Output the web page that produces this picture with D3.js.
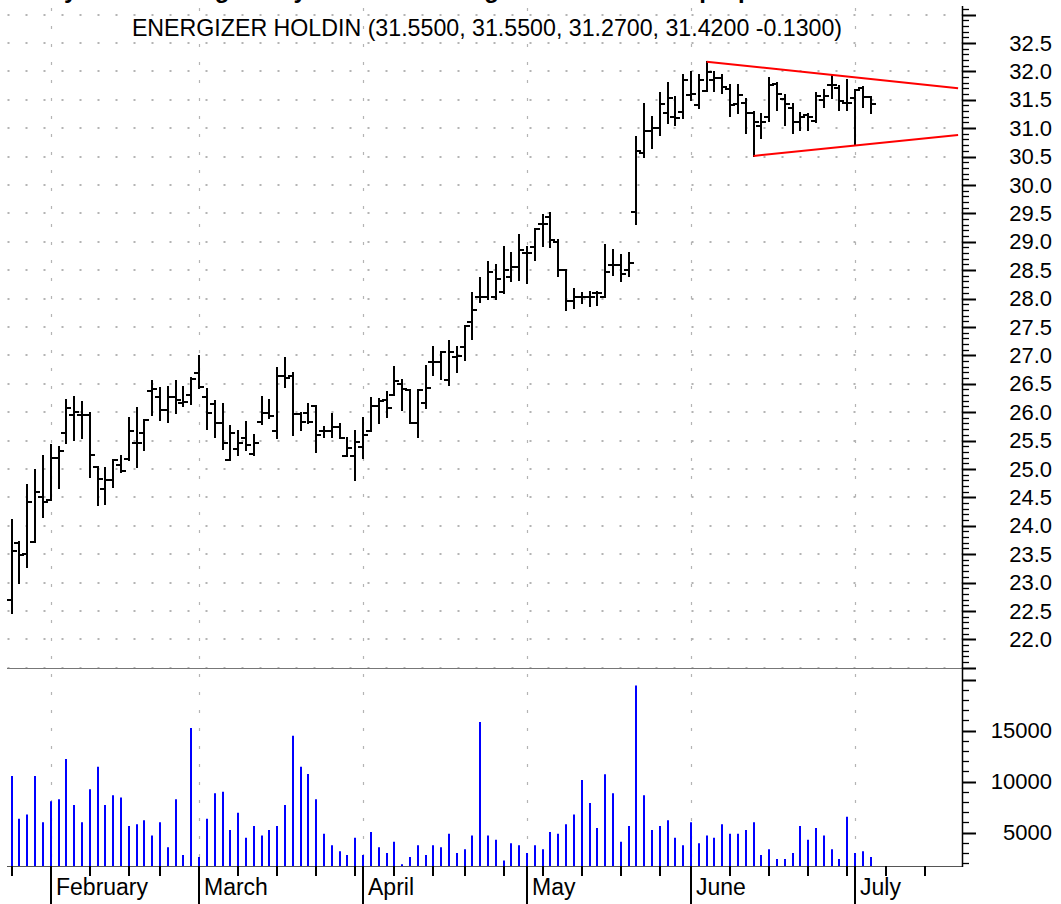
<!DOCTYPE html>
<html>
<head>
<meta charset="utf-8">
<script src="https://cdn.jsdelivr.net/npm/d3@7"></script>
<style>
  body { margin: 0; background: #fff; }
  svg { display: block; }
  text { font-family: "Liberation Sans", Arial, sans-serif; fill: #000; }
</style>
</head>
<body>
<div id="container"></div>
<script>
// trading sessions (2003), month-day
const dates = [
  "01-27","01-28","01-29","01-30","01-31",
  "02-03","02-04","02-05","02-06","02-07","02-10","02-11","02-12","02-13","02-14","02-18","02-19","02-20","02-21","02-24","02-25","02-26","02-27","02-28",
  "03-03","03-04","03-05","03-06","03-07","03-10","03-11","03-12","03-13","03-14","03-17","03-18","03-19","03-20","03-21","03-24","03-25","03-26","03-27","03-28","03-31",
  "04-01","04-02","04-03","04-04","04-07","04-08","04-09","04-10","04-11","04-14","04-15","04-16","04-17","04-21","04-22","04-23","04-24","04-25","04-28","04-29","04-30",
  "05-01","05-02","05-05","05-06","05-07","05-08","05-09","05-12","05-13","05-14","05-15","05-16","05-19","05-20","05-21","05-22","05-23","05-27","05-28","05-29","05-30",
  "06-02","06-03","06-04","06-05","06-06","06-09","06-10","06-11","06-12","06-13","06-16","06-17","06-18","06-19","06-20","06-23","06-24","06-25","06-26","06-27","06-30",
  "07-01","07-02","07-03"
];
// empty slots to the right of the last bar
const futureDates = ["07-04","07-07","07-08","07-09","07-10","07-11","07-14","07-15","07-16","07-17","07-18"];

const open = [
  22.69,23.69,23.51,23.72,24.50,
  24.46,25.19,25.63,25.95,25.95,25.95,25.04,24.64,24.80,25.07,25.17,25.45,25.63,26.38,26.27,26.04,26.27,26.16,26.30,
  26.68,26.27,26.15,25.80,25.15,25.35,25.55,25.26,25.82,25.99,25.66,26.64,26.64,25.97,25.99,26.10,25.66,25.66,25.73,25.22,25.22,
  25.39,25.66,26.10,26.21,26.30,26.50,26.39,25.81,26.16,26.88,26.88,26.57,26.97,27.15,27.59,28.03,28.03,28.03,28.12,28.37,28.55,
  28.81,28.91,29.32,29.44,29.00,28.51,27.96,28.03,28.03,28.09,28.03,28.59,28.59,28.51,29.53,30.57,30.95,31.00,31.26,31.20,31.29,
  31.58,31.40,31.66,31.85,31.88,31.68,31.43,31.45,31.27,31.04,31.19,31.78,31.51,31.35,31.10,31.23,31.13,31.50,31.76,31.70,31.44,
  31.53,31.70,31.55
];
const high = [
  24.10,23.72,24.72,24.98,25.22,
  25.42,25.39,26.21,26.27,26.18,25.98,25.04,25.01,25.16,25.22,25.89,26.07,25.86,26.54,26.42,26.45,26.54,26.45,26.60,
  26.99,26.40,26.20,26.14,25.76,25.66,25.83,25.60,26.27,26.21,26.77,26.95,26.68,25.99,26.15,26.10,25.74,25.97,25.79,25.55,25.66,
  25.89,26.24,26.23,26.36,26.80,26.57,26.39,26.39,26.81,27.15,27.05,27.26,27.14,27.52,28.09,28.36,28.65,28.59,28.91,28.81,29.12,
  28.91,29.22,29.47,29.50,29.03,28.51,28.16,28.10,28.12,28.12,28.94,28.85,28.77,28.81,30.85,31.43,31.19,31.62,31.80,31.55,31.94,
  31.99,31.94,32.17,31.99,31.94,31.76,31.76,31.51,31.29,31.25,31.88,31.79,31.58,31.43,31.26,31.25,31.61,31.67,31.92,31.74,31.85,
  31.67,31.72,31.55
];
const low = [
  22.46,23.00,23.28,23.72,24.16,
  24.46,24.66,25.45,25.51,25.54,24.86,24.36,24.39,24.68,24.95,25.16,25.04,25.33,25.95,25.86,25.83,25.99,26.10,26.14,
  26.42,25.71,25.56,25.35,25.15,25.25,25.33,25.25,25.79,25.89,25.54,26.44,25.60,25.69,25.81,25.29,25.56,25.57,25.54,25.22,24.81,
  25.19,25.66,25.81,25.91,26.30,26.04,25.80,25.56,26.07,26.65,26.59,26.48,26.71,26.91,27.28,27.93,27.99,27.99,28.09,28.30,28.33,
  28.27,28.68,28.92,28.91,28.40,27.80,27.83,27.92,27.87,27.89,28.03,28.41,28.30,28.40,29.32,30.50,30.65,30.88,31.09,31.06,31.17,
  31.50,31.35,31.66,31.66,31.61,31.21,31.26,30.91,30.51,30.82,31.13,31.32,31.06,30.91,30.97,30.96,31.11,31.38,31.53,31.32,31.32,
  30.70,31.37,31.27
];
const close = [
  23.55,23.48,24.41,24.60,24.41,
  25.19,25.32,26.07,26.00,25.95,25.24,24.83,24.80,25.15,24.97,25.66,25.46,25.86,26.40,26.04,26.27,26.22,26.17,26.58,
  26.45,25.99,25.80,25.46,25.63,25.46,25.42,25.46,25.99,25.93,26.64,26.60,25.97,25.83,25.83,25.60,25.66,25.73,25.54,25.36,25.48,
  25.60,26.11,26.20,26.07,26.55,26.40,25.81,26.39,26.43,26.88,27.06,27.06,26.99,27.51,27.80,28.03,28.47,28.34,28.51,28.55,28.86,
  28.81,29.22,29.31,29.03,28.51,27.96,28.03,28.03,28.03,28.10,28.47,28.59,28.44,28.63,30.60,30.95,31.00,31.43,31.53,31.17,31.85,
  31.60,31.85,31.99,31.88,31.72,31.41,31.58,31.26,31.11,31.10,31.76,31.60,31.43,31.10,31.19,31.20,31.56,31.56,31.76,31.48,31.44,
  31.67,31.55,31.42
];
const volume = [
  10550,6370,6770,10560,6010,
  8070,8270,12220,7710,6010,9250,11470,7710,8660,8460,5650,5820,6210,4710,6010,3560,8270,2810,15260,
  2620,6370,8860,9020,5260,6960,4510,5650,4710,5260,5650,7710,14510,11470,10750,8270,4900,3760,3170,2810,4510,
  2810,5070,3560,3010,4120,1900,2620,3760,2810,3760,3560,4900,3010,3370,4710,15850,4710,4310,2260,3950,3760,
  3010,3760,3370,5070,4900,5820,6770,10160,7910,5460,10720,8860,4120,5650,19440,8660,5260,5650,6210,4510,3760,
  6010,3950,4710,4510,5820,4900,4900,5260,6010,2810,3370,2420,2420,3010,5650,4310,5460,4710,3370,2420,6570,
  3010,3170,2620
];

const symbol = "ENERGIZER HOLDIN";
const headline = "Daily Chart: Energizer Symmetrical Triangle Forms After Gap Up";
const monthNames = ["February", "March", "April", "May", "June", "July"];
const priceLabels = ["22.0","22.5","23.0","23.5","24.0","24.5","25.0","25.5","26.0","26.5","27.0","27.5","28.0","28.5","29.0","29.5","30.0","30.5","31.0","31.5","32.0","32.5"];
const volumeLabels = [5000, 10000, 15000];

// triangle lines: [session index, price]
const upperLine = [[89, 32.17], [121.2, 31.70]];
const lowerLine = [[95, 30.51], [121.2, 30.88]];

const W = 1061, H = 904;
const left = 7, right = 962;
const priceTop = 6, priceBottom = 668;
const volTop = 669, volBottom = 866;

const parse = d3.timeParse("%Y-%m-%d");
const sessions = dates.concat(futureDates).map(s => parse("2003-" + s));

const x = d3.scaleLinear().domain([-0.6, 121.7]).range([left, right]);
const yP = d3.scaleLinear().domain([21.5, 33.15]).range([667.7, priceTop]);
const yV = d3.scaleLinear().domain([1730, 21050]).range([volBottom, volTop]);
const px = i => Math.round(x(i));

const svg = d3.select("#container").append("svg")
  .attr("width", W).attr("height", H)
  .style("background", "#fff");

// headline, mostly above the top edge as in the source image
svg.append("text")
  .attr("x", 20).attr("y", -2)
  .attr("font-size", 24).attr("font-weight", "bold")
  .text(headline);

// month and week starts
const monthIdx = [], weekIdx = [];
sessions.forEach((d, i) => {
  if (i > 0 && d.getMonth() !== sessions[i - 1].getMonth()) monthIdx.push(i);
  else if (i === 0 || +d3.timeMonday.floor(d) !== +d3.timeMonday.floor(sessions[i - 1])) weekIdx.push(i);
});

// horizontal dotted grid (price panel)
svg.append("g").selectAll("line")
  .data(d3.range(21.5, 33.01, 0.5))
  .join("line")
  .attr("x1", left + 0.5).attr("x2", right)
  .attr("y1", d => Math.round(yP(d))).attr("y2", d => Math.round(yP(d)))
  .attr("stroke", "#b4b4b4").attr("stroke-width", 2)
  .attr("stroke-dasharray", "2,16");

// vertical dotted grid at month starts
svg.append("g").selectAll("line")
  .data(monthIdx)
  .join("line")
  .attr("x1", d => px(d) + 0.5).attr("x2", d => px(d) + 0.5)
  .attr("y1", 8).attr("y2", volBottom)
  .attr("stroke", "#b4b4b4").attr("stroke-width", 1.2)
  .attr("stroke-dasharray", "3,15");

// panel separator + x baseline
svg.append("line")
  .attr("x1", left).attr("x2", right).attr("y1", 668.5).attr("y2", 668.5)
  .attr("stroke", "#777").attr("stroke-width", 1.2);
svg.append("line")
  .attr("x1", left).attr("x2", right).attr("y1", volBottom + 0.5).attr("y2", volBottom + 0.5)
  .attr("stroke", "#555").attr("stroke-width", 1.2);

// OHLC bars
const ohlc = dates.map((d, i) => ({ i, o: open[i], h: high[i], l: low[i], c: close[i] }));
const bars = svg.append("g").attr("stroke", "#000").attr("stroke-width", 2);
bars.selectAll(".hl").data(ohlc).join("line")
  .attr("x1", d => px(d.i)).attr("x2", d => px(d.i))
  .attr("y1", d => Math.round(yP(d.h)) - 1).attr("y2", d => Math.round(yP(d.l)) + 1);
bars.selectAll(".op").data(ohlc).join("line")
  .attr("x1", d => px(d.i) - 5).attr("x2", d => px(d.i))
  .attr("y1", d => Math.round(yP(d.o))).attr("y2", d => Math.round(yP(d.o)));
bars.selectAll(".cl").data(ohlc).join("line")
  .attr("x1", d => px(d.i)).attr("x2", d => px(d.i) + 5)
  .attr("y1", d => Math.round(yP(d.c))).attr("y2", d => Math.round(yP(d.c)));

// triangle
const tri = d3.line().x(d => x(d[0])).y(d => yP(d[1]));
[upperLine, lowerLine].forEach(pts => {
  svg.append("path").attr("d", tri(pts))
    .attr("fill", "none").attr("stroke", "#f00").attr("stroke-width", 2);
});

// volume bars
svg.append("g").selectAll("line")
  .data(volume)
  .join("line")
  .attr("x1", (d, i) => px(i)).attr("x2", (d, i) => px(i))
  .attr("y1", d => yV(d)).attr("y2", volBottom)
  .attr("stroke", "#0000ff").attr("stroke-width", 2);

// right axis
const ax = svg.append("g").attr("stroke", "#000");
ax.append("line").attr("x1", right + 0.5).attr("x2", right + 0.5)
  .attr("y1", priceTop).attr("y2", volBottom + 1).attr("stroke-width", 1.5);
const pTicks = d3.range(215, 332).map(v => v / 10);
ax.selectAll(".pt").data(pTicks).join("line")
  .attr("x1", right).attr("x2", d => right + (Math.round(d * 10) % 5 === 0 ? 14 : 7))
  .attr("y1", d => Math.round(yP(d)) + 0.5).attr("y2", d => Math.round(yP(d)) + 0.5)
  .attr("stroke-width", d => Math.round(d * 10) % 5 === 0 ? 2 : 1.3);
const vTicks = d3.range(2000, 20001, 1000);
ax.selectAll(".vt").data(vTicks).join("line")
  .attr("x1", right).attr("x2", d => right + (d % 5000 === 0 ? 14 : 7))
  .attr("y1", d => Math.round(yV(d)) + 0.5).attr("y2", d => Math.round(yV(d)) + 0.5)
  .attr("stroke-width", d => d % 5000 === 0 ? 2 : 1.3);

svg.append("g").selectAll("text")
  .data(priceLabels)
  .join("text")
  .attr("x", 1052).attr("y", d => yP(+d))
  .attr("dy", "0.35em").attr("text-anchor", "end")
  .attr("font-size", 22).text(d => d);
svg.append("g").selectAll("text")
  .data(volumeLabels)
  .join("text")
  .attr("x", 1052).attr("y", d => yV(d))
  .attr("dy", "0.35em").attr("text-anchor", "end")
  .attr("font-size", 22).text(d => d);

// bottom axis ticks and month labels
const xa = svg.append("g").attr("stroke", "#000").attr("stroke-width", 2);
xa.selectAll(".wk").data(weekIdx).join("line")
  .attr("x1", d => px(d)).attr("x2", d => px(d))
  .attr("y1", volBottom).attr("y2", volBottom + 10);
xa.selectAll(".mo").data(monthIdx).join("line")
  .attr("x1", d => px(d)).attr("x2", d => px(d))
  .attr("y1", volBottom).attr("y2", H);
svg.append("g").selectAll("text")
  .data(monthIdx)
  .join("text")
  .attr("x", d => px(d) + 5).attr("y", 895)
  .attr("font-size", 23)
  .text((d, k) => monthNames[k]);

// quote line
const last = dates.length - 1;
const chg = close[last] - close[last - 1];
svg.append("text")
  .attr("x", 487).attr("y", 36).attr("text-anchor", "middle")
  .attr("font-size", 23.2)
  .text(`${symbol} (${open[last].toFixed(4)}, ${high[last].toFixed(4)}, ${low[last].toFixed(4)}, ${close[last].toFixed(4)} ${chg.toFixed(4)})`);
</script>
</body>
</html>
